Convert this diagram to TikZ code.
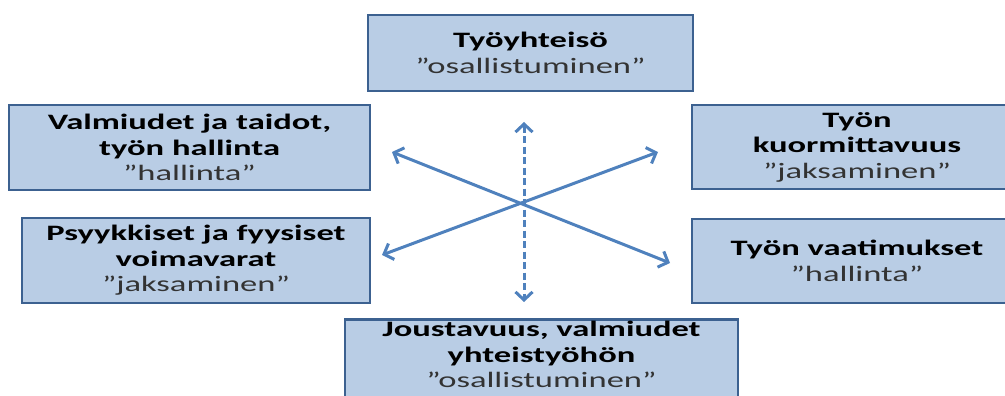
\documentclass[tikz,border=0pt]{standalone}
\usepackage{fontspec}
\setmainfont{Carlito}[FakeStretch=1.57]
\usetikzlibrary{arrows.meta}
\definecolor{boxfill}{HTML}{B9CDE5}
\definecolor{boxline}{HTML}{3C6190}
\definecolor{arrowc}{HTML}{4F81BD}
\tikzset{
  box/.style={draw=boxline, line width=2.5pt, fill=boxfill, inner sep=0pt, align=center,
    font=\fontsize{22}{25.5}\selectfont},
  arr/.style={draw=arrowc, line width=3pt, {Straight Barb[length=8pt,width=17pt,line width=3pt]}-{Straight Barb[length=8pt,width=17pt,line width=3pt]}}
}
\newcommand{\qt}[1]{{\color{black!80}\fontseries{m}\selectfont ”#1”}}
\begin{document}
\begin{tikzpicture}[x=1pt,y=-1pt]
\useasboundingbox (0,0) rectangle (1005,396);
\node[box, minimum width=325pt, minimum height=76pt] (top) at (530.5,53) {\textbf{Työyhteisö}\\\qt{osallistuminen}};
\node[box, minimum width=361pt, minimum height=85pt] (lt) at (189.5,147.5) {\textbf{Valmiudet ja taidot,}\\\textbf{työn hallinta}\\\qt{hallinta}};
\node[box, minimum width=348pt, minimum height=85pt] (lb) at (196,260.5) {\textbf{Psyykkiset ja fyysiset}\\\textbf{voimavarat}\\\qt{jaksaminen}};
\node[box, minimum width=330pt, minimum height=84pt] (rt) at (857,147) {\textbf{Työn}\\\textbf{kuormittavuus}\\\qt{jaksaminen}};
\node[box, minimum width=330pt, minimum height=84pt] (rb) at (857,261) {\textbf{Työn vaatimukset}\\\qt{hallinta}};
\node[box, minimum width=393pt, minimum height=90pt, anchor=north] (bot) at (541.5,318) {\textbf{Joustavuus, valmiudet}\\\textbf{yhteistyöhön}\\\qt{osallistuminen}\\[-14pt]\strut};
\coordinate (c) at (523,203);
\coordinate (ul) at (392,152);
\coordinate (dr) at (670,263);
\coordinate (ur) at (658,152);
\coordinate (dl) at (382,255);
\coordinate (vt) at (524,122);
\coordinate (vb) at (524,302);
\draw[arr] (ul) -- (dr);
\draw[arr] (dl) -- (ur);
\draw[arr, dash pattern=on 7pt off 3.5pt] (vt) -- (vb);
\end{tikzpicture}
\end{document}
